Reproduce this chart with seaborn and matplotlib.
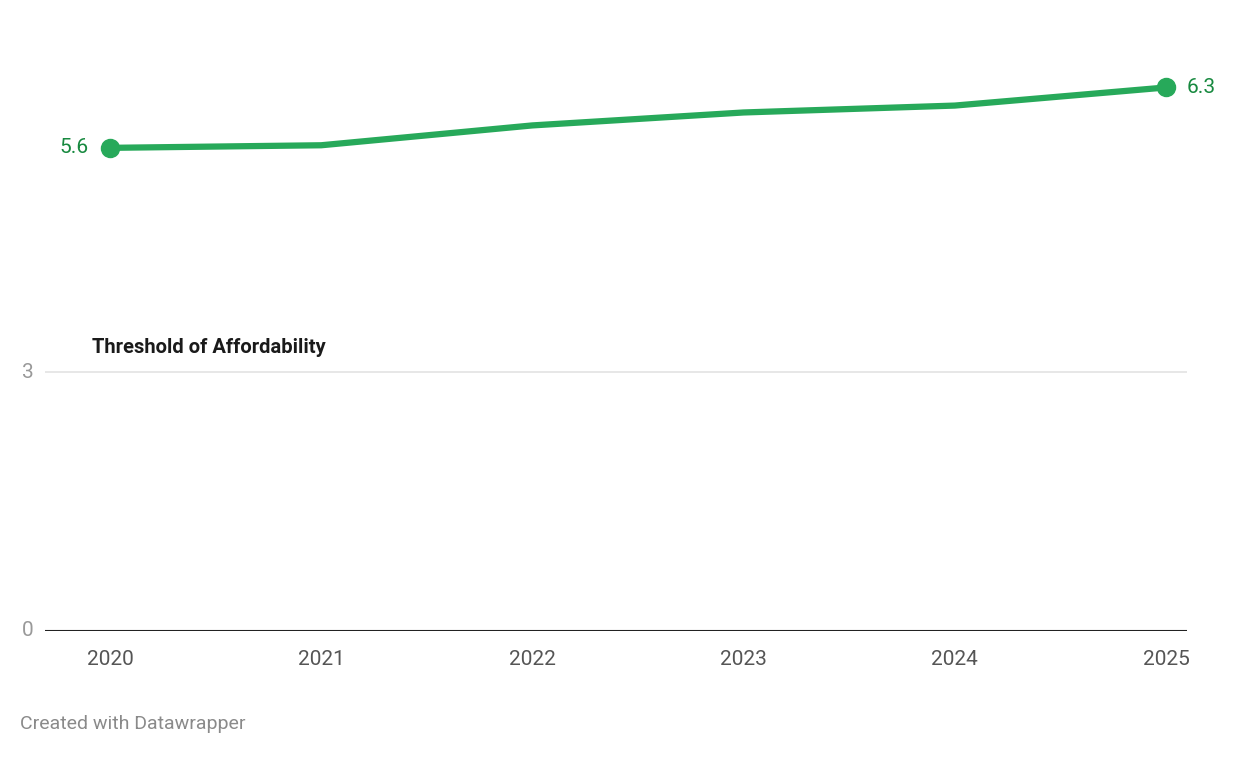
import matplotlib
matplotlib.use("Agg")
import matplotlib.pyplot as plt
import seaborn as sns
import pandas as pd

years = [2020, 2021, 2022, 2023, 2024, 2025]
values = [5.6, 5.63, 5.86, 6.01, 6.09, 6.3]
yticks = [0, 3]

sns.set_style("white")
plt.rcParams['font.family'] = ['Roboto', 'DejaVu Sans']
green = "#27a95a"

fig = plt.figure(figsize=(12.4, 7.58), dpi=100)
ax = fig.add_axes([45/1240, 1-631/758, (1187-45)/1240, (631-40)/758])
df = pd.DataFrame({"year": years, "value": values})
sns.lineplot(data=df, x="year", y="value", ax=ax, color=green, linewidth=4.5)
ax.plot([years[0], years[-1]], [values[0], values[-1]], 'o', color=green, markersize=13, zorder=5)
ax.text(years[0] - 0.1, values[0], f"{values[0]}", color="#17893f", fontsize=15, ha="right", va="center")
ax.text(years[-1] + 0.1, values[-1], f"{values[-1]}", color="#17893f", fontsize=15, ha="left", va="center")

x0 = 2020 - 65/211.2
x1 = 2025 + 21/211.2
ax.set_xlim(x0, x1)
ax.set_ylim(0, 6.85)
ax.axhline(3, color="#e3e3e3", linewidth=1.2, zorder=0)
ax.axhline(0, color="#222222", linewidth=1.5)
ax.text(2020 - 18/211.2, 3.18, "Threshold of Affordability", fontsize=14.5, fontweight="bold", color="#1a1a1a", va="bottom")
for s in ax.spines.values():
    s.set_visible(False)
ax.set_yticks(yticks)
ax.set_yticklabels([str(t) for t in yticks])
ax.tick_params(axis='y', length=0, labelsize=15, labelcolor="#999999", pad=8)
for lab in ax.get_yticklabels():
    lab.set_verticalalignment("center")
ax.set_xticks(years)
ax.set_xticklabels([str(y) for y in years])
ax.tick_params(axis='x', length=0, labelsize=15, labelcolor="#555555", pad=14)
ax.set_xlabel("")
ax.set_ylabel("")
fig.text(20/1240, 1-724/758, "Created with Datawrapper", fontsize=14, color="#8a8a8a", va="center")
fig.savefig("out.png", dpi=100, facecolor="white")
